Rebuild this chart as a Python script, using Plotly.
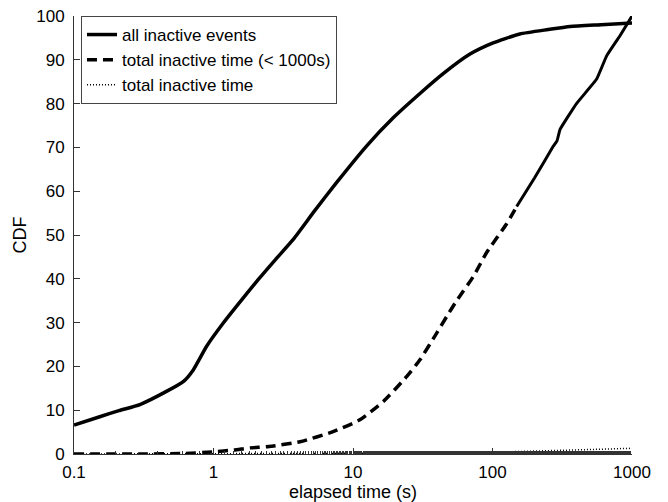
import plotly.graph_objects as go

# elapsed time (s) and CDF (%)
all_events_x = [0.1, 0.153, 0.21, 0.297, 0.46, 0.61, 0.716, 0.893, 1.175, 1.46, 2.09,
                2.8, 3.73, 5.3, 7.64, 12.5, 19.5, 30.2, 45, 69, 100, 157, 250, 360, 600, 1000]
all_events_y = [6.6, 8.5, 9.9, 11.3, 14.3, 16.6, 19.2, 24.6, 29.9, 33.7, 39.8,
                44.5, 49.0, 55.5, 62.0, 70.3, 76.8, 82.3, 87.0, 91.3, 93.8, 95.9, 96.9, 97.6, 98.0, 98.4]

total_lt1000_x = [0.1, 0.3, 0.6, 1.0, 1.4, 1.83, 2.5, 4.17, 7.2, 11.2, 16.5, 24.3, 30.2,
                  39.8, 47, 55.3, 72.8, 90.8, 126, 149, 200, 273, 290, 305, 400, 558, 658, 820, 1000]
total_lt1000_y = [0.0, 0.0, 0.1, 0.5, 0.9, 1.4, 1.7, 2.8, 5.1, 7.8, 12.0, 17.7, 21.5,
                  27.6, 31.4, 35.0, 40.5, 46.0, 52.5, 56.5, 63.0, 70.3, 71.5, 74.1, 80.0, 85.6, 90.9, 95.5, 100.0]

total_x = [0.1, 1, 10, 100, 300, 600, 1000]
total_y = [0.0, 0.05, 0.15, 0.4, 0.8, 1.1, 1.3]

x_ticks = [0.1, 1, 10, 100, 1000]
x_tick_labels = ["0.1", "1", "10", "100", "1000"]
y_ticks = [0, 10, 20, 30, 40, 50, 60, 70, 80, 90, 100]

split = total_lt1000_x.index(149)

FONT = "Liberation Sans, Arial, Helvetica, sans-serif"

fig = go.Figure()
fig.add_trace(go.Scatter(x=all_events_x, y=all_events_y, mode="lines",
                         line=dict(color="black", width=3.5, shape="spline", smoothing=0.5),
                         name="all inactive events"))
fig.add_trace(go.Scatter(x=total_lt1000_x[:split + 1], y=total_lt1000_y[:split + 1], mode="lines",
                         line=dict(color="black", width=3.5, dash="10px,6px", shape="spline", smoothing=0.5),
                         name="total inactive time (< 1000s)"))
fig.add_trace(go.Scatter(x=total_lt1000_x[split:], y=total_lt1000_y[split:], mode="lines",
                         line=dict(color="black", width=3, shape="spline", smoothing=0.3),
                         showlegend=False, hoverinfo="skip"))
fig.add_trace(go.Scatter(x=total_x, y=total_y, mode="lines",
                         line=dict(color="black", width=1.5, dash="1px,2px"),
                         name="total inactive time"))

fig.update_layout(
    width=668, height=502,
    margin=dict(l=74, r=36, t=16, b=48),
    paper_bgcolor="white", plot_bgcolor="white",
    font=dict(family=FONT, size=17, color="black"),
    legend=dict(x=0.0125, y=1.0, xanchor="left", yanchor="top",
                bgcolor="white", bordercolor="#444", borderwidth=1,
                font=dict(size=17), tracegroupgap=0, itemwidth=30),
    showlegend=True,
)
fig.update_xaxes(type="log", range=[-1, 3], tickvals=x_ticks, ticktext=x_tick_labels,
                 ticks="inside", ticklen=6, tickcolor="#333", automargin=False,
                 showline=True, linecolor="#333", linewidth=1, mirror=False,
                 showgrid=False, zeroline=False, ticklabelstandoff=3,
                 minor=dict(ticks="inside", ticklen=3, tickcolor="#333", showgrid=False),
                 title=dict(text="elapsed time (s)", standoff=3, font=dict(size=18)),
                 tickfont=dict(size=17))
fig.update_yaxes(range=[0, 100], tickvals=y_ticks,
                 ticks="inside", ticklen=6, tickcolor="#333", automargin=False,
                 showline=True, linecolor="#333", linewidth=1, mirror=False,
                 showgrid=False, zeroline=False, ticklabelstandoff=5,
                 title=dict(text="CDF", standoff=4, font=dict(size=18)),
                 tickfont=dict(size=17))

fig.write_html("out.html")
